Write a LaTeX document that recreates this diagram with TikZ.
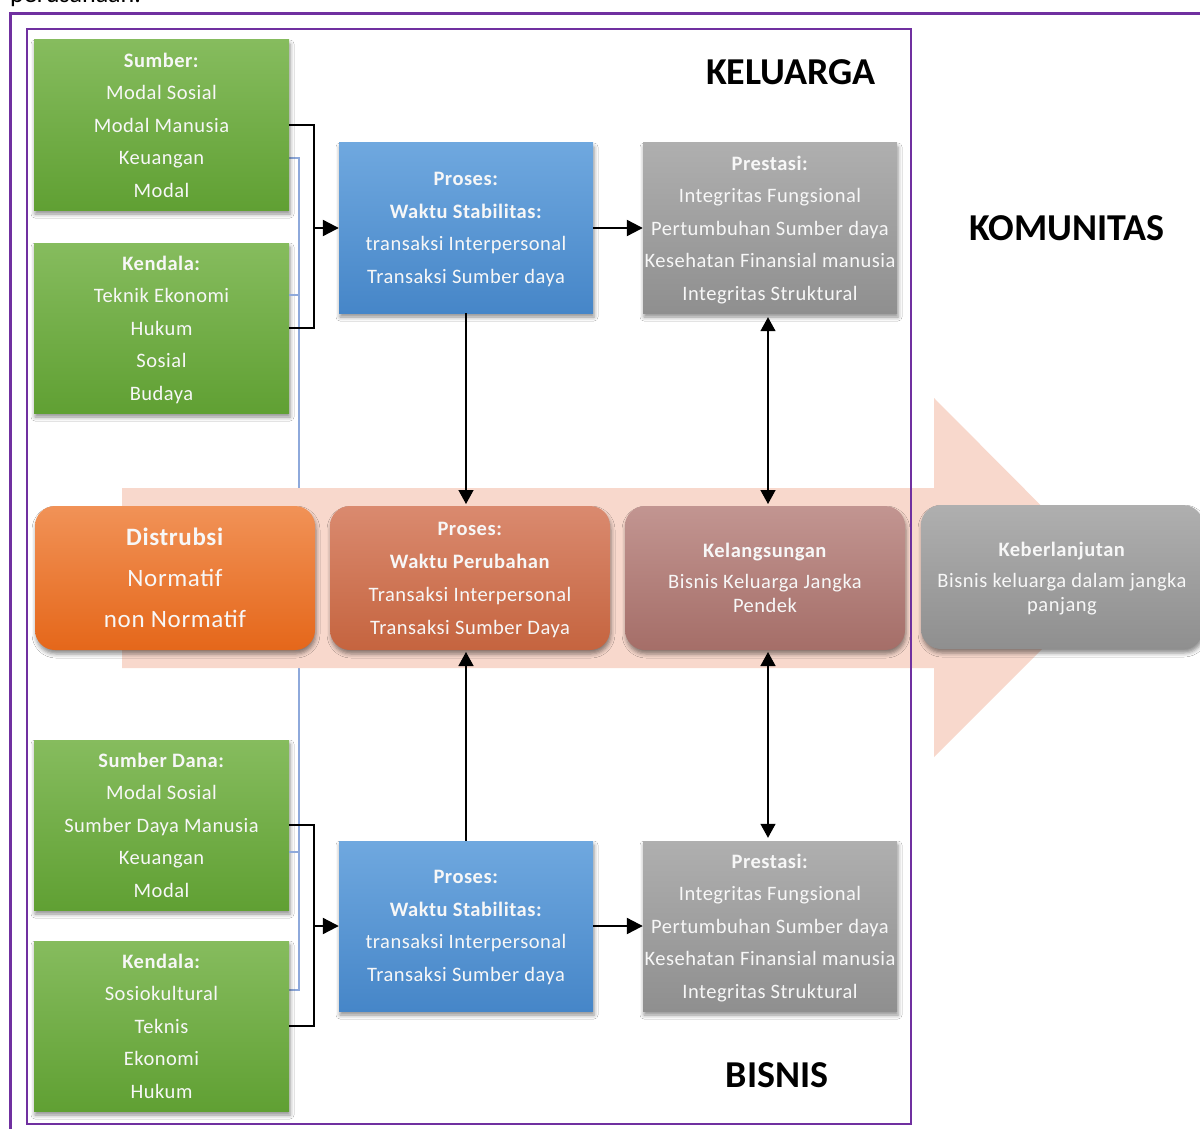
\documentclass[tikz,border=0pt]{standalone}
\usepackage{fontspec}
\setmainfont{Carlito}[LetterSpace=2.5]
\newfontfamily\labelfont{Carlito}
\usetikzlibrary{arrows.meta,calc,shadows.blur}
\definecolor{gtop}{HTML}{86BC5E}
\definecolor{gbot}{HTML}{60A033}
\definecolor{btop}{HTML}{6FA8DF}
\definecolor{bbot}{HTML}{4686C8}
\definecolor{ytop}{HTML}{AFAFAF}
\definecolor{ybot}{HTML}{8F8F8F}
\definecolor{otop}{HTML}{F19257}
\definecolor{obot}{HTML}{E5671A}
\definecolor{ptop}{HTML}{DA8A6F}
\definecolor{pbot}{HTML}{C5643F}
\definecolor{ktop}{HTML}{C29591}
\definecolor{kbot}{HTML}{A56E68}
\definecolor{pinkband}{HTML}{F8D8CC}
\definecolor{purp}{HTML}{7030A0}
\definecolor{thinblue}{HTML}{8EA9DB}
\definecolor{txtw}{HTML}{F7F7F7}
\tikzset{
  shad/.style={blur shadow={shadow xshift=1pt,shadow yshift=-4pt,shadow blur radius=4pt,shadow opacity=45}},
  sqbox/.style={rectangle,inner sep=0pt,minimum width=255pt,minimum height=170pt,text depth=0pt,align=center,text=txtw,font=\fontsize{20.5}{32.5}\selectfont,shad},
  greenbox/.style={sqbox,top color=gtop,bottom color=gbot},
  bluebox/.style={sqbox,minimum width=254pt,top color=btop,bottom color=bbot},
  graybox/.style={sqbox,minimum width=254pt,top color=ytop,bottom color=ybot},
  rbox/.style={rectangle,rounded corners=20pt,inner sep=0pt,minimum width=280pt,minimum height=144pt,text depth=0pt,align=center,text=txtw,font=\fontsize{20.5}{33}\selectfont,shad},
  label/.style={font=\labelfont\fontsize{38}{44}\selectfont\bfseries,text=black},
  bracket/.style={draw=black,line width=2.2pt},
  bigarrow/.style={draw=black,line width=2.2pt,-{Triangle[length=16pt,width=16pt]}},
  vline/.style={draw=black,line width=1.4pt,-{Triangle[length=14pt,width=15pt]}},
  vdouble/.style={draw=black,line width=1.4pt,{Triangle[length=14pt,width=15pt]}-{Triangle[length=14pt,width=15pt]}},
  bl/.style={draw=thinblue,line width=1.2pt},
}
\begin{document}
\begin{tikzpicture}[x=1pt,y=-1pt]
\useasboundingbox (0,0) rectangle (1200,1129);
\fill[white] (0,0) rectangle (1200,1129);
% cut-off caption text at the top
\node[anchor=base west,inner sep=0pt,font=\labelfont\fontsize{26}{30}\selectfont] (cap) at (10,3) {perusahaan.};
% thin blue connectors (behind band)
\draw[bl] (46,158) -- (299,158) -- (299,990) -- (286,990);
% pink arrow
\fill[pinkband] (122,488) -- (934,488) -- (934,398) -- (1113,578) -- (934,757) -- (934,668) -- (122,668) -- cycle;
% purple frames
\draw[purp,line width=3pt] (10,14) rectangle (1215,1145);
\draw[purp,line width=2.6pt] (27,29) rectangle (911,1124);
% boxes
\node[greenbox] (sumber) at (161.5,125) {\textbf{Sumber:}\\Modal Sosial\\Modal Manusia\\Keuangan\\Modal};
\node[greenbox] (kend1) at (161.5,328) {\textbf{Kendala:}\\Teknik Ekonomi\\Hukum\\Sosial\\Budaya};
\node[greenbox] (sdana) at (161.5,825) {\textbf{Sumber Dana:}\\Modal Sosial\\Sumber Daya Manusia\\Keuangan\\Modal};
\node[greenbox] (kend2) at (161.5,1026) {\textbf{Kendala:}\\Sosiokultural\\Teknis\\Ekonomi\\Hukum};
\node[bluebox] (blue1) at (466,228) {\textbf{Proses:}\\\textbf{Waktu Stabilitas:}\\transaksi Interpersonal\\Transaksi Sumber daya};
\node[bluebox] (blue2) at (466,926) {\textbf{Proses:}\\\textbf{Waktu Stabilitas:}\\transaksi Interpersonal\\Transaksi Sumber daya};
\node[graybox] (gray1) at (770,228) {\textbf{Prestasi:}\\Integritas Fungsional\\Pertumbuhan Sumber daya\\Kesehatan Finansial manusia\\Integritas Struktural};
\node[graybox] (gray2) at (770,926) {\textbf{Prestasi:}\\Integritas Fungsional\\Pertumbuhan Sumber daya\\Kesehatan Finansial manusia\\Integritas Struktural};
\node[rbox,top color=otop,bottom color=obot,font=\fontsize{25}{41}\selectfont] (dist) at (175,578) {\textbf{Distrubsi}\\Normatif\\non Normatif};
\node[rbox,top color=ptop,bottom color=pbot] (proses) at (470,578) {\textbf{Proses:}\\\textbf{Waktu Perubahan}\\Transaksi Interpersonal\\Transaksi Sumber Daya};
\node[rbox,top color=ktop,bottom color=kbot,font=\fontsize{20.5}{24}\selectfont] (kel) at (765,578) {\textbf{Kelangsungan}\\[7pt]Bisnis Keluarga Jangka\\Pendek};
\node[rbox,minimum width=282pt,top color=ytop,bottom color=ybot,font=\fontsize{20.5}{24}\selectfont] (keb) at (1062,577) {\textbf{Keberlanjutan}\\[7pt]Bisnis keluarga dalam jangka\\panjang};
% labels
\node[label] (lkel) at (791,72) {KELUARGA};
\node[label] (lkom) at (1067,228) {KOMUNITAS};
\node[label] (lbis) at (777,1075) {BISNIS};
% thin blue stubs
\draw[bl] (kend1.east |- 0,295) -- (299,295);
\draw[bl] (sdana.east |- 0,852) -- (299,852);
% brackets and arrows
\draw[bracket] (sumber.east) -- ++(25,0) |- (kend1.east);
\coordinate (j1) at (314,228);
\draw[bigarrow] (j1) -- (blue1.west);
\draw[bracket] (sdana.east) -- ++(25,0) |- (kend2.east);
\coordinate (j2) at (314,926);
\draw[bigarrow] (j2) -- (blue2.west);
\draw[bigarrow] (blue1.east) -- (gray1.west);
\draw[bigarrow] (blue2.east) -- (gray2.west);
\draw[vline] (blue1.south) -- (blue1.south |- 0,504);
\draw[vline] (blue2.north) -- (blue2.north |- 0,652);
\draw[vdouble] ($(gray1.south)+(-2,4)$) -- (768,504);
\draw[vdouble] (768,652) -- ($(gray2.north)+(-2,-3)$);
\end{tikzpicture}
\end{document}
